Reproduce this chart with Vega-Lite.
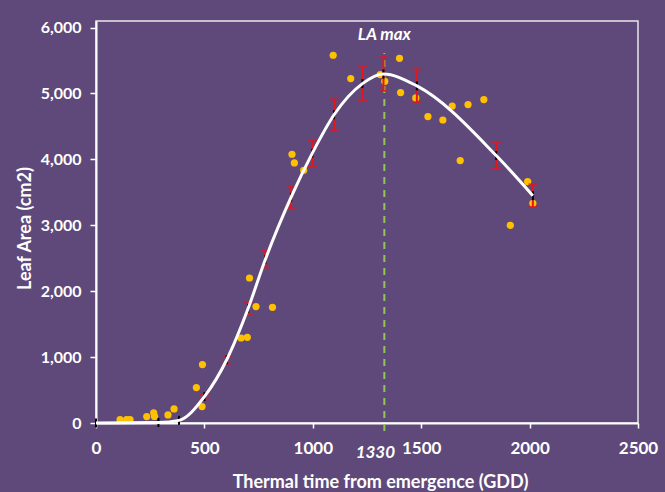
{
  "$schema": "https://vega.github.io/schema/vega-lite/v6.json",
  "width": 542,
  "height": 402,
  "autosize": {"type": "none"},
  "padding": {"left": 96, "top": 21, "right": 27, "bottom": 69},
  "background": "#5F497A",
  "config": {
    "font": "Lato",
    "view": {"stroke": "#e8e8e8", "strokeWidth": 1.5}
  },
  "datasets": {
    "pts": [
      {"x": 111, "y": 50}, {"x": 141, "y": 50}, {"x": 157, "y": 50}, {"x": 234, "y": 97},
      {"x": 266, "y": 155}, {"x": 270, "y": 100}, {"x": 332, "y": 122}, {"x": 360, "y": 213},
      {"x": 463, "y": 537}, {"x": 491, "y": 886}, {"x": 489, "y": 249}, {"x": 669, "y": 1290},
      {"x": 698, "y": 1300}, {"x": 738, "y": 1766}, {"x": 814, "y": 1756}, {"x": 708, "y": 2200},
      {"x": 904, "y": 4078}, {"x": 915, "y": 3946}, {"x": 958, "y": 3835}, {"x": 1094, "y": 5580},
      {"x": 1175, "y": 5226}, {"x": 1311, "y": 5287}, {"x": 1332, "y": 5185}, {"x": 1400, "y": 5534},
      {"x": 1405, "y": 5014}, {"x": 1475, "y": 4932}, {"x": 1531, "y": 4650}, {"x": 1600, "y": 4598},
      {"x": 1643, "y": 4810}, {"x": 1716, "y": 4832}, {"x": 1789, "y": 4908}, {"x": 1680, "y": 3982},
      {"x": 1991, "y": 3663}, {"x": 2015, "y": 3334}, {"x": 1911, "y": 3000}
    ],
    "mean": [
      {"x": 0, "y": 0}, {"x": 288, "y": 8}, {"x": 383, "y": 40}, {"x": 500, "y": 400},
      {"x": 603, "y": 960}, {"x": 702, "y": 1740}, {"x": 781, "y": 2480}, {"x": 900, "y": 3427},
      {"x": 998, "y": 4095}, {"x": 1098, "y": 4677}, {"x": 1229, "y": 5150}, {"x": 1326, "y": 5296},
      {"x": 1480, "y": 5115}, {"x": 1846, "y": 4058}, {"x": 2015, "y": 3450}
    ],
    "bars": [
      {"x": 500, "y": 360, "y2": 440}, {"x": 603, "y": 901, "y2": 1017},
      {"x": 702, "y": 1650, "y2": 1827}, {"x": 781, "y": 2358, "y2": 2610},
      {"x": 900, "y": 3263, "y2": 3592}, {"x": 998, "y": 3900, "y2": 4290},
      {"x": 1098, "y": 4442, "y2": 4912}, {"x": 1229, "y": 4897, "y2": 5402},
      {"x": 1326, "y": 5038, "y2": 5554}, {"x": 1480, "y": 4862, "y2": 5367},
      {"x": 1846, "y": 3860, "y2": 4255}, {"x": 2015, "y": 3278, "y2": 3622}
    ]
  },
  "encoding": {
    "x": {
      "field": "x", "type": "quantitative",
      "scale": {"domain": [0, 2500], "nice": false, "zero": false},
      "axis": {
        "values": [0, 500, 1000, 1500, 2000, 2500], "format": "d",
        "title": "Thermal time from emergence (GDD)", "grid": false,
        "domainColor": "white", "domainWidth": 2,
        "tickColor": "white", "tickWidth": 1.5, "tickSize": 5,
        "labelColor": "white", "labelFontSize": 17, "labelFontWeight": "bold", "labelFont": "Lato",
        "labelPadding": 12, "labelFlush": false, "labelOverlap": false,
        "titleColor": "white", "titleFontSize": 18, "titleFontWeight": "bold", "titleFont": "Lato",
        "titleX": 284, "titleY": 64, "titleBaseline": "alphabetic"
      }
    },
    "y": {
      "field": "y", "type": "quantitative",
      "scale": {"domain": [0, 6100], "nice": false, "zero": false},
      "axis": {
        "values": [0, 1000, 2000, 3000, 4000, 5000, 6000], "format": ",d",
        "title": "Leaf Area (cm2)", "grid": false,
        "domainColor": "white", "domainWidth": 2,
        "tickColor": "white", "tickWidth": 1.5, "tickSize": 6,
        "labelColor": "white", "labelFontSize": 16, "labelFontWeight": "bold", "labelFont": "Lato",
        "labelPadding": 9, "labelOverlap": false,
        "titleColor": "white", "titleFontSize": 18, "titleFontWeight": "bold", "titleFont": "Lato",
        "titleX": -66, "titleY": 207, "titleAngle": 270, "titleBaseline": "alphabetic"
      }
    }
  },
  "layer": [
    {
      "data": {"name": "pts"},
      "mark": {"type": "circle", "color": "#FFC000", "opacity": 1, "size": 52}
    },
    {
      "data": {"values": [{"x": 1330, "y": -120, "y2": 5615}]},
      "mark": {"type": "rule", "color": "#92C45A", "strokeWidth": 2, "strokeDash": [7, 6]},
      "encoding": {"y2": {"field": "y2"}}
    },
    {
      "data": {"name": "bars"},
      "mark": {"type": "errorbar", "color": "#E8141C", "thickness": 2, "ticks": {"size": 9}},
      "encoding": {"y2": {"field": "y2"}}
    },
    {
      "data": {"name": "mean"},
      "mark": {"type": "tick", "orient": "vertical", "color": "black", "size": 9, "thickness": 2, "opacity": 1}
    },
    {
      "data": {"name": "mean"},
      "mark": {"type": "line", "color": "white", "strokeWidth": 3, "interpolate": "monotone"}
    },
    {
      "data": {"values": [{"x": 1330, "y": 5895, "t": "LA max"}]},
      "mark": {"type": "text", "color": "white", "font": "Lato", "fontSize": 17, "fontWeight": "bold", "fontStyle": "italic", "baseline": "middle", "align": "center"},
      "encoding": {"text": {"field": "t"}}
    },
    {
      "data": {"values": [{"x": 1330, "y": -448, "t": "1330"}]},
      "mark": {"type": "text", "color": "white", "font": "Lato", "fontSize": 17, "fontWeight": "bold", "fontStyle": "italic", "baseline": "middle", "align": "center", "dx": -9},
      "encoding": {"text": {"field": "t"}}
    }
  ]
}
